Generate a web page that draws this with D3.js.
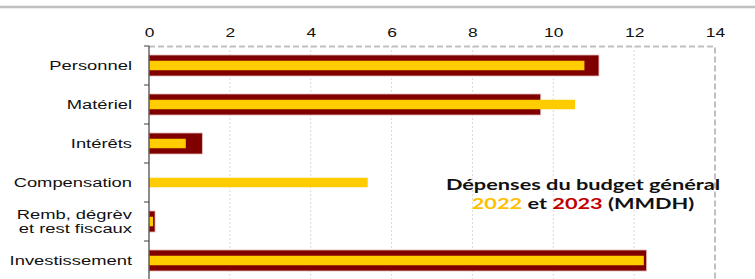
<!DOCTYPE html>
<html><head><meta charset="utf-8">
<script src="https://cdn.jsdelivr.net/npm/d3@7"></script>
<style>body{margin:0;background:#fff}svg{display:block}</style>
</head><body>
<script>
const categories = ["Personnel","Matériel","Intérêts","Compensation","Remb, dégrèv\net rest fiscaux","Investissement"];
const values2023 = [11.13, 9.69, 1.32, 0, 0.15, 12.31];
const values2022 = [10.77, 10.54, 0.91, 5.41, 0.10, 12.24];
const xTicks = [0,2,4,6,8,10,12,14];

const W = 755, H = 279;
const svg = d3.select("body").append("svg").attr("width", W).attr("height", H);

const x = d3.scaleLinear().domain([0,14]).range([149,715]);
const y = d3.scaleBand().domain(categories).range([46,280]).paddingInner(0.46).paddingOuter(0.23);

// top gray rule
svg.append("line").attr("x1",0).attr("x2",W).attr("y1",7).attr("y2",7)
  .attr("stroke","#c0c0c0").attr("stroke-width",2.5);

// grid
svg.append("g").selectAll("line").data(xTicks.slice(1,-1)).join("line")
  .attr("x1",d=>x(d)).attr("x2",d=>x(d)).attr("y1",46).attr("y2",H)
  .attr("stroke","#d9d9d9").attr("stroke-width",1).attr("stroke-dasharray","2,2");

// dashed border top and right
svg.append("path").attr("d",`M${x(0)},46.5H${x(14)}V${H}`)
  .attr("fill","none").attr("stroke","#c0c0c0").attr("stroke-width",2).attr("stroke-dasharray","6,3");

// top axis labels
const xa = d3.axisTop(x).tickValues(xTicks).tickSize(0).tickPadding(0);
const gx = svg.append("g").attr("transform","translate(0,37)").call(xa);
gx.select(".domain").remove();
gx.selectAll("text").attr("font-family","Liberation Sans, Arial, sans-serif").attr("font-size",12)
  .attr("fill","#111").attr("transform","scale(1.45,1)");

// bars 2023
svg.append("g").selectAll("rect").data(categories).join("rect")
  .attr("x",x(0)).attr("y",d=>y(d))
  .attr("width",(d,i)=>x(values2023[i])-x(0)).attr("height",y.bandwidth())
  .attr("fill","#800000").attr("stroke",(d,i)=>values2023[i]>0?"#e6c8c8":"none").attr("stroke-width",0.8);

// bars 2022
const yh = 9.5;
svg.append("g").selectAll("rect").data(categories).join("rect")
  .attr("x",x(0)).attr("y",d=>y(d)+y.bandwidth()/2-yh/2)
  .attr("width",(d,i)=>x(values2022[i])-x(0)).attr("height",yh)
  .attr("fill","#ffcc00");

// left axis
svg.append("line").attr("x1",x(0)).attr("x2",x(0)).attr("y1",46).attr("y2",H)
  .attr("stroke","#404040").attr("stroke-width",1.2);
const step = y.step();
const bounds = d3.range(categories.length+1).map(i=>46+i*step);
svg.append("g").selectAll("line").data(bounds).join("line")
  .attr("x1",x(0)-5).attr("x2",x(0)).attr("y1",d=>d).attr("y2",d=>d)
  .attr("stroke","#404040").attr("stroke-width",1);

// category labels
const lg = svg.append("g").attr("font-family","Liberation Sans, Arial, sans-serif").attr("font-size",13.5).attr("fill","#111").attr("text-anchor","end");
categories.forEach(c=>{
  const lines = c.split("\n");
  const cy = y(c)+y.bandwidth()/2;
  const g = lg.append("g").attr("transform",`translate(132,${cy}) scale(1.36,1)`);
  lines.forEach((l,j)=>g.append("text").attr("x",0)
    .attr("y",(j-(lines.length-1)/2)*14).attr("dy","0.35em").text(l));
});

// title
const tg1 = svg.append("g").attr("transform","translate(583,190) scale(1.5,1)");
tg1.append("text").attr("text-anchor","middle")
  .attr("font-family","Lato, Open Sans, sans-serif").attr("font-weight","bold").attr("font-size",14.5).attr("fill","#111")
  .text("Dépenses du budget général");
const tg2 = svg.append("g").attr("transform","translate(583,209) scale(1.5,1)");
const t2 = tg2.append("text").attr("text-anchor","middle")
  .attr("font-family","Lato, Open Sans, sans-serif").attr("font-weight","bold").attr("font-size",14.5).attr("fill","#111");
t2.append("tspan").attr("fill","#ffc000").text("2022");
t2.append("tspan").text(" et ");
t2.append("tspan").attr("fill","#c00000").text("2023");
t2.append("tspan").text(" (MMDH)");
</script>
</body></html>
